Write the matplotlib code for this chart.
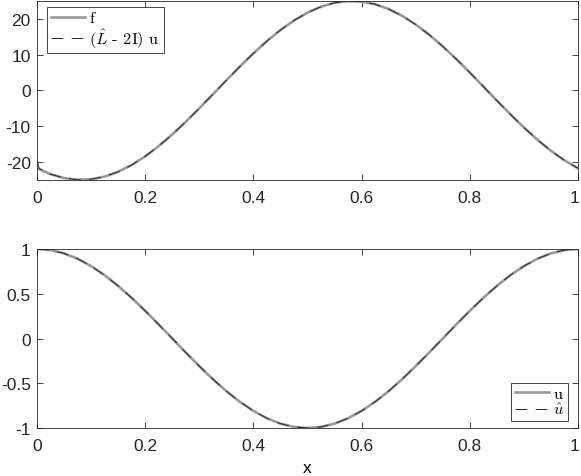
import matplotlib
matplotlib.use("Agg")
import matplotlib.pyplot as plt
import matplotlib.transforms as mtransforms

# values
x = [0.0, 0.025, 0.05, 0.075, 0.1, 0.125, 0.15, 0.175, 0.2, 0.225,
     0.25, 0.275, 0.3, 0.325, 0.35, 0.375, 0.4, 0.425, 0.45, 0.475,
     0.5, 0.525, 0.55, 0.575, 0.6, 0.625, 0.65, 0.675, 0.7, 0.725,
     0.75, 0.775, 0.8, 0.825, 0.85, 0.875, 0.9, 0.925, 0.95, 0.975, 1.0]

f_vals = [-21.84, -23.51, -24.60, -25.08, -24.94, -24.19, -22.84, -20.94, -18.51, -15.63,
          -12.37, -8.80, -5.01, -1.10, 2.83, 6.70, 10.40, 13.85, 16.95, 19.63,
          21.84, 23.51, 24.60, 25.08, 24.94, 24.19, 22.84, 20.94, 18.51, 15.63,
          12.37, 8.80, 5.01, 1.10, -2.83, -6.70, -10.40, -13.85, -16.95, -19.63, -21.84]

# (L - 2I) u, same grid plus the small kink at the left end
lu_x = [0.0, 0.004] + x[1:]
lu_vals = [-19.6, -21.9] + f_vals[1:]

u_vals = [1.0, 0.9877, 0.9511, 0.8910, 0.8090, 0.7071, 0.5878, 0.4540, 0.3090, 0.1564,
          0.0, -0.1564, -0.3090, -0.4540, -0.5878, -0.7071, -0.8090, -0.8910, -0.9511, -0.9877,
          -1.0, -0.9877, -0.9511, -0.8910, -0.8090, -0.7071, -0.5878, -0.4540, -0.3090, -0.1564,
          0.0, 0.1564, 0.3090, 0.4540, 0.5878, 0.7071, 0.8090, 0.8910, 0.9511, 0.9877, 1.0]
uhat_vals = list(u_vals)

plt.rcParams['font.family'] = ['Liberation Sans', 'DejaVu Sans']
plt.rcParams['mathtext.fontset'] = 'cm'
plt.rcParams['lines.scale_dashes'] = False

solid_kw = dict(color='#999999', linewidth=1.9, linestyle='-')
dash_kw = dict(color='#2a2a2a', linewidth=0.7, linestyle=(0, (8.5, 6)))

fig = plt.figure(figsize=(5.81, 4.77), dpi=100)
ax1 = fig.add_axes([0.0637, 0.6205, 0.9311, 0.3753])
ax2 = fig.add_axes([0.0637, 0.1006, 0.9311, 0.3753])

ax1.plot(x, f_vals, label='f', **solid_kw)
ax1.plot(lu_x, lu_vals, label=r'($\hat{L}$ - 2I) u', **dash_kw)
ax1.set_xlim(0, 1)
ax1.set_ylim(-25.15, 25.1)
ax1.set_yticks([-20, -10, 0, 10, 20])
ax1.set_yticklabels(['-20', '-10', '0', '10', '20'])

ax2.plot(x, u_vals, label='u', **solid_kw)
ax2.plot(x, uhat_vals, label=r'$\hat{u}$', **dash_kw)
ax2.set_xlim(0, 1)
ax2.set_ylim(-1, 1)
ax2.set_yticks([-1, -0.5, 0, 0.5, 1])
ax2.set_yticklabels(['-1', '-0.5', '0', '0.5', '1'])
ax2.set_xlabel('x', fontsize=12.5, labelpad=5)

shift_left = mtransforms.ScaledTranslation(-3 / 100, 0, fig.dpi_scale_trans)
for ax in (ax1, ax2):
    ax.set_xticks([0, 0.2, 0.4, 0.6, 0.8, 1])
    ax.set_xticklabels(['0', '0.2', '0.4', '0.6', '0.8', '1'])
    ax.tick_params(direction='in', top=True, right=True, length=4.5, width=0.6,
                   colors='#262626', labelsize=12.5)
    ax.tick_params(axis='x', pad=7)
    ax.tick_params(axis='y', pad=4.5)
    for s in ax.spines.values():
        s.set_color('#262626')
        s.set_linewidth(0.6)
    # keep the last "1" inside the canvas
    last = ax.get_xticklabels()[-1]
    last.set_transform(last.get_transform() + shift_left)

leg_kw = dict(fancybox=False, framealpha=1, edgecolor='#262626',
              prop={'family': 'cmr10', 'size': 11.8},
              handlelength=2.1, borderpad=0.22, labelspacing=0.05, handletextpad=0.25,
              borderaxespad=0, bbox_transform=fig.transFigure)
l1 = ax1.legend(loc='upper left', bbox_to_anchor=(0.0814, 0.9826), **leg_kw)
l2 = ax2.legend(loc='lower right', bbox_to_anchor=(0.9776, 0.1153), **leg_kw)
for l in (l1, l2):
    l.get_frame().set_linewidth(0.6)

fig.savefig('out.png', dpi=100)
